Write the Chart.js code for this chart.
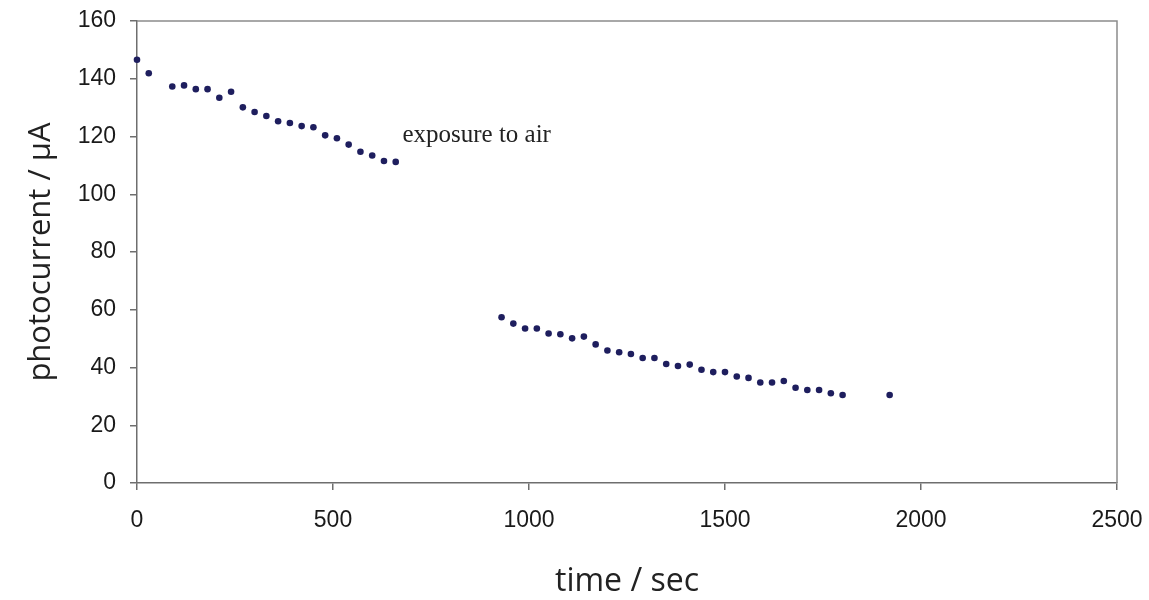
<!DOCTYPE html>
<html>
<head>
<meta charset="utf-8">
<script src="https://cdn.jsdelivr.net/npm/chart.js@4"></script>
<style>
  html, body { margin: 0; padding: 0; background: #ffffff; }
  #wrap { width: 1149px; height: 600px; }
</style>
</head>
<body>
<div id="wrap"><canvas id="c" width="1149" height="600"></canvas></div>
<script>
// Data: time (s) and photocurrent (µA)
const timeBefore = [0, 30, 90, 120, 150, 180, 210, 240, 270, 300, 330, 360, 390, 420, 450, 480, 510, 540, 570, 600, 630, 660];
const currentBefore = [146.6, 141.9, 137.3, 137.7, 136.4, 136.4, 133.4, 135.5, 130.1, 128.5, 127.1, 125.3, 124.7, 123.6, 123.2, 120.4, 119.4, 117.2, 114.7, 113.4, 111.5, 111.2];
const timeAfter = [930, 960, 990, 1020, 1050, 1080, 1110, 1140, 1170, 1200, 1230, 1260, 1290, 1320, 1350, 1380, 1410, 1440, 1470, 1500, 1530, 1560, 1590, 1620, 1650, 1680, 1710, 1740, 1770, 1800, 1920];
const currentAfter = [57.4, 55.2, 53.5, 53.5, 51.8, 51.5, 50.1, 50.7, 48.0, 45.9, 45.3, 44.7, 43.3, 43.3, 41.2, 40.5, 41.0, 39.2, 38.4, 38.4, 36.9, 36.4, 34.8, 34.8, 35.3, 33.0, 32.2, 32.2, 31.1, 30.5, 30.5];
const xTicks = [0, 500, 1000, 1500, 2000, 2500];
const yTicks = [0, 20, 40, 60, 80, 100, 120, 140, 160];
const annotationText = "exposure to air";
const annotationAt = { x: 677, y: 120.5 };
const xTitle = "time / sec";
const yTitle = "photocurrent / µA";

const points = [];
timeBefore.forEach((t, i) => points.push({ x: t, y: currentBefore[i] }));
timeAfter.forEach((t, i) => points.push({ x: t, y: currentAfter[i] }));

const plotBorder = {
  id: 'plotBorder',
  beforeDatasetsDraw(chart) {
    const { ctx, chartArea: a } = chart;
    ctx.save();
    ctx.strokeStyle = '#8c8c8c';
    ctx.lineWidth = 1.5;
    ctx.beginPath();
    ctx.moveTo(a.left, a.top);
    ctx.lineTo(a.right, a.top);
    ctx.lineTo(a.right, a.bottom);
    ctx.stroke();
    ctx.restore();
  },
  afterDatasetsDraw(chart) {
    const { ctx } = chart;
    const xs = chart.scales.x, ys = chart.scales.y;
    ctx.save();
    ctx.font = '25px "Liberation Serif", "DejaVu Serif", serif';
    ctx.fillStyle = '#222222';
    ctx.textAlign = 'left';
    ctx.textBaseline = 'middle';
    ctx.fillText(annotationText, xs.getPixelForValue(annotationAt.x), ys.getPixelForValue(annotationAt.y));
    ctx.restore();
  }
};

new Chart(document.getElementById('c'), {
  type: 'scatter',
  data: {
    datasets: [{
      data: points,
      clip: false,
      pointRadius: 3.3,
      pointHoverRadius: 3.3,
      pointBackgroundColor: '#1e1e5e',
      pointBorderColor: '#1e1e5e',
      pointBorderWidth: 0,
      showLine: false
    }]
  },
  options: {
    responsive: false,
    animation: false,
    layout: { padding: { top: 21, right: 32, left: 0, bottom: 0 } },
    plugins: { legend: { display: false }, tooltip: { enabled: false } },
    scales: {
      x: {
        type: 'linear',
        min: 0, max: 2500,
        afterBuildTicks(scale) { scale.ticks = xTicks.map(v => ({ value: v })); },
        afterFit(scale) { scale.height = 117; scale.paddingLeft = 0; scale.paddingRight = 0; },
        border: { display: true, color: '#6e6e6e', width: 1.5 },
        grid: { drawOnChartArea: false, drawTicks: true, tickLength: 7, color: '#6e6e6e', lineWidth: 1.5 },
        ticks: { color: '#1a1a1a', padding: 17, maxRotation: 0, callback: v => String(v), font: { family: '"Liberation Sans", Arial, sans-serif', size: 23 } },
        title: { display: true, text: xTitle, color: '#222222', padding: { top: 0, bottom: 2 }, font: { family: '"Open Sans", "Noto Sans", sans-serif', size: 32, lineHeight: 1 } }
      },
      y: {
        type: 'linear',
        min: 0, max: 160,
        afterBuildTicks(scale) { scale.ticks = yTicks.map(v => ({ value: v })); },
        afterFit(scale) { scale.width = 137; scale.paddingTop = 0; scale.paddingBottom = 0; },
        border: { display: true, color: '#6e6e6e', width: 1.5 },
        grid: { drawOnChartArea: false, drawTicks: true, tickLength: 7, color: '#6e6e6e', lineWidth: 1.5 },
        ticks: { color: '#1a1a1a', padding: 14, callback: v => String(v), font: { family: '"Liberation Sans", Arial, sans-serif', size: 23 } },
        title: { display: true, text: yTitle, color: '#222222', padding: { top: 23, bottom: 0 }, font: { family: '"Open Sans", "Noto Sans", sans-serif', size: 31, lineHeight: 1.2 } }
      }
    }
  },
  plugins: [plotBorder]
});
</script>
</body>
</html>
